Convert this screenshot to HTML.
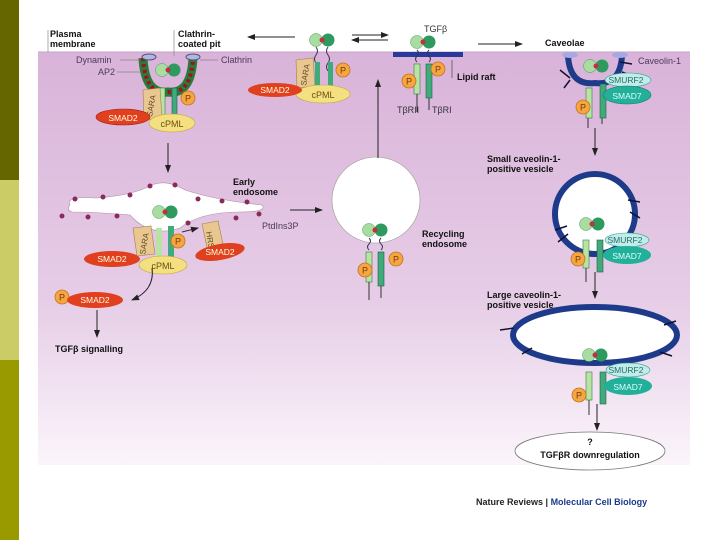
<!DOCTYPE html>
<html><head><meta charset="utf-8"><style>
html,body{margin:0;padding:0;background:#fff;width:720px;height:540px;overflow:hidden}
svg{display:block}
text{font-family:"Liberation Sans",sans-serif}
.b{font-weight:bold;font-size:9px;fill:#111}
.g{font-size:9px;fill:#4a3a5a}
</style></head><body>
<svg width="720" height="540" viewBox="0 0 720 540" xmlns="http://www.w3.org/2000/svg">
<defs>
<linearGradient id="pk" x1="0" y1="0" x2="0" y2="1">
<stop offset="0" stop-color="#d9b3d9"/><stop offset="0.6" stop-color="#e6cde6"/><stop offset="1" stop-color="#fbf5fb"/>
</linearGradient>
<marker id="ar" markerWidth="8" markerHeight="8" refX="7" refY="4" orient="auto" markerUnits="userSpaceOnUse"><path d="M0,1 L8,4 L0,7 z" fill="#222"/></marker>
<g id="lig"><circle cx="-6" cy="0" r="6.5" fill="#a8dca0" stroke="#4a9a5a" stroke-width=".5"/><circle cx="6" cy="0" r="6.5" fill="#2e9a5e"/><circle cx="0" cy="0" r="2.5" fill="#c03040"/></g>
<g id="rec"><path d="M-6,8 q3,3 0,6 q-3,3 0,6 M6,8 q-3,3 0,6 q3,3 0,6" stroke="#335" fill="none" stroke-width="1"/>
<rect x="-9" y="22" width="6" height="30" fill="#b9e3a3" stroke="#3a7a4a" stroke-width=".6"/><rect x="3" y="22" width="6" height="34" fill="#3faa7a" stroke="#2a5a4a" stroke-width=".6"/>
<line x1="-6" y1="52" x2="-6" y2="70" stroke="#333"/><line x1="6" y1="56" x2="6" y2="68" stroke="#333"/></g>
<g id="P"><circle r="7" fill="#f4a640" stroke="#c87020" stroke-width=".8"/><text x="0" y="3.5" text-anchor="middle" font-size="9" fill="#7a3a10">P</text></g>
</defs>

<!-- sidebar -->
<rect x="0" y="0" width="19" height="180" fill="#666600"/>
<rect x="0" y="180" width="19" height="180" fill="#cccc66"/>
<rect x="0" y="360" width="19" height="180" fill="#999900"/>

<!-- panel -->
<rect x="38" y="52" width="652" height="413" fill="url(#pk)"/>
<line x1="38" y1="52" x2="690" y2="52" stroke="#c9a0c9" stroke-width="1"/>
<line x1="48" y1="30" x2="48" y2="52" stroke="#888" stroke-width=".7"/>
<line x1="174" y1="30" x2="174" y2="56" stroke="#888" stroke-width=".7"/>

<!-- top labels -->
<text class="b" x="50" y="37">Plasma</text><text class="b" x="50" y="47">membrane</text>
<text class="b" x="178" y="37">Clathrin-</text><text class="b" x="178" y="47">coated pit</text>
<line x1="295" y1="37" x2="248" y2="37" stroke="#222" marker-end="url(#ar)"/>
<line x1="352" y1="35" x2="388" y2="35" stroke="#222" marker-end="url(#ar)"/>
<line x1="388" y1="40" x2="352" y2="40" stroke="#222" marker-end="url(#ar)"/>
<line x1="478" y1="44" x2="522" y2="44" stroke="#222" marker-end="url(#ar)"/>
<text x="424" y="32" font-size="9" fill="#333">TGFβ</text>
<text class="b" x="545" y="46">Caveolae</text>

<!-- clathrin pit -->
<path d="M143,58 Q145,95 168,92 Q191,95 193,58" fill="none" stroke="#2a7a3a" stroke-width="9"/>
<path d="M143,58 Q145,95 168,92 Q191,95 193,58" fill="none" stroke="#a01020" stroke-width="4" stroke-dasharray="3 3"/>
<ellipse cx="149" cy="57" rx="7" ry="3" fill="#b0b8e0" stroke="#557"/><ellipse cx="193" cy="57" rx="7" ry="3" fill="#b0b8e0" stroke="#557"/>
<text class="g" x="76" y="63">Dynamin</text><line x1="120" y1="60" x2="140" y2="60" stroke="#666" stroke-width=".6"/>
<text class="g" x="98" y="75">AP2</text><line x1="117" y1="72" x2="143" y2="72" stroke="#666" stroke-width=".6"/>
<text class="g" x="221" y="63">Clathrin</text><line x1="200" y1="60" x2="218" y2="60" stroke="#666" stroke-width=".6"/>
<use href="#lig" x="168" y="70"/>
<rect x="160" y="88" width="5" height="30" fill="#b9e3a3" stroke="#3a7a4a" stroke-width=".6"/><rect x="172" y="88" width="5" height="30" fill="#3faa7a" stroke="#2a5a4a" stroke-width=".6"/>
<path d="M143,90 l17,-2 l2,30 l-18,2 z" fill="#e8c890" stroke="#a08050" stroke-width=".6"/>
<text x="0" y="0" font-size="8" fill="#6a4a20" transform="translate(152,117) rotate(-80)">SARA</text>
<use href="#P" x="188" y="98"/>
<ellipse cx="172" cy="123" rx="23" ry="9" fill="#f4e080" stroke="#c0a040" stroke-width=".6"/><text x="172" y="127" text-anchor="middle" font-size="9" fill="#6a5010">cPML</text>
<ellipse cx="123" cy="117" rx="27" ry="8" fill="#e04020" stroke="#a02010" stroke-width=".6"/><text x="123" y="121" text-anchor="middle" font-size="8.5" fill="#ffd">SMAD2</text>

<!-- second complex -->
<use href="#lig" x="322" y="40"/>
<path d="M316,47 q3,4 0,8 q-3,4 0,8 q3,4 0,8 M328,47 q-3,4 0,8 q3,4 0,8 q-3,4 0,8" stroke="#335" fill="none"/>
<path d="M296,60 l17,-2 l2,28 l-18,2 z" fill="#e8c890" stroke="#a08050" stroke-width=".6"/>
<text x="0" y="0" font-size="8" fill="#6a4a20" transform="translate(306,86) rotate(-80)">SARA</text>
<rect x="315" y="62" width="5" height="26" fill="#3faa7a"/><rect x="328" y="62" width="5" height="26" fill="#3faa7a"/>
<use href="#P" x="343" y="70"/>
<ellipse cx="323" cy="94" rx="27" ry="9" fill="#f4e080" stroke="#c0a040" stroke-width=".6"/><text x="323" y="98" text-anchor="middle" font-size="9" fill="#6a5010">cPML</text>
<ellipse cx="275" cy="90" rx="27" ry="7" fill="#e04020"/><text x="275" y="93" text-anchor="middle" font-size="8.5" fill="#ffd">SMAD2</text>

<!-- lipid raft -->
<use href="#lig" x="423" y="42"/>
<rect x="393" y="52" width="70" height="5" fill="#2a3a9a"/>
<use href="#rec" x="423" y="42"/>
<use href="#P" x="438" y="69"/><use href="#P" x="409" y="81"/>
<line x1="452" y1="60" x2="452" y2="78" stroke="#333" stroke-width=".6"/>
<text class="b" x="457" y="80">Lipid raft</text>
<text x="397" y="113" font-size="9" fill="#333">TβRII</text><text x="432" y="113" font-size="9" fill="#333">TβRI</text>

<!-- caveolae -->
<path d="M568,56 Q570,86 595,83 Q620,86 622,56" fill="none" stroke="#1e3a8a" stroke-width="6"/>
<ellipse cx="570" cy="55" rx="8" ry="3" fill="#a8a8e0"/><ellipse cx="620" cy="55" rx="8" ry="3" fill="#a8a8e0"/>
<path d="M560,70 l10,8 M620,62 l12,2 M622,72 l10,4 M570,80 l-6,8" stroke="#113" stroke-width="1.5"/>
<use href="#lig" x="596" y="66"/>
<text class="g" x="638" y="64">Caveolin-1</text>
<rect x="586" y="88" width="6" height="30" fill="#b9e3a3" stroke="#3a7a4a" stroke-width=".6"/><rect x="600" y="84" width="6" height="34" fill="#3faa7a" stroke="#2a5a4a" stroke-width=".6"/>
<line x1="588" y1="118" x2="588" y2="128" stroke="#333"/><line x1="602" y1="118" x2="602" y2="124" stroke="#333"/>
<ellipse cx="628" cy="80" rx="23" ry="7" fill="#bfeee8" stroke="#3a9a9a" stroke-width=".6"/><text x="626" y="83" text-anchor="middle" font-size="8.5" fill="#2a6a6a">SMURF2</text>
<ellipse cx="627" cy="95" rx="24" ry="9" fill="#22b09a" stroke="#1a7a6a" stroke-width=".6"/><text x="627" y="99" text-anchor="middle" font-size="8.5" fill="#dff">SMAD7</text>
<use href="#P" x="583" y="107"/>
<line x1="595" y1="128" x2="595" y2="155" stroke="#222" marker-end="url(#ar)"/>
<text class="b" x="487" y="162">Small caveolin-1-</text><text class="b" x="487" y="172">positive vesicle</text>

<!-- small vesicle -->
<ellipse cx="595" cy="214" rx="40" ry="40" fill="#fff" stroke="#1e3a8a" stroke-width="6"/>
<path d="M555,230 l12,-4 M558,242 l10,-8 M628,200 l12,2 M630,212 l10,6" stroke="#113" stroke-width="1.5"/>
<use href="#lig" x="592" y="224"/>
<rect x="583" y="240" width="6" height="28" fill="#b9e3a3" stroke="#3a7a4a" stroke-width=".6"/><rect x="597" y="240" width="6" height="32" fill="#3faa7a" stroke="#2a5a4a" stroke-width=".6"/>
<line x1="586" y1="268" x2="586" y2="282" stroke="#333"/>
<ellipse cx="627" cy="240" rx="22" ry="7" fill="#bfeee8" stroke="#3a9a9a" stroke-width=".6"/><text x="625" y="243" text-anchor="middle" font-size="8.5" fill="#2a6a6a">SMURF2</text>
<ellipse cx="627" cy="255" rx="24" ry="9" fill="#22b09a"/><text x="627" y="259" text-anchor="middle" font-size="8.5" fill="#dff">SMAD7</text>
<use href="#P" x="578" y="259"/>
<line x1="595" y1="272" x2="595" y2="298" stroke="#222" marker-end="url(#ar)"/>
<text class="b" x="487" y="298">Large caveolin-1-</text><text class="b" x="487" y="308">positive vesicle</text>

<!-- large vesicle -->
<ellipse cx="595" cy="335" rx="82" ry="28" fill="#fff" stroke="#1e3a8a" stroke-width="6"/>
<path d="M500,330 l14,-2 M522,354 l10,-6 M664,325 l12,-4 M660,352 l12,4" stroke="#113" stroke-width="1.5"/>
<use href="#lig" x="595" y="355"/>
<rect x="586" y="372" width="6" height="28" fill="#b9e3a3" stroke="#3a7a4a" stroke-width=".6"/><rect x="600" y="372" width="6" height="32" fill="#3faa7a" stroke="#2a5a4a" stroke-width=".6"/>
<line x1="589" y1="400" x2="589" y2="415" stroke="#333"/>
<ellipse cx="628" cy="370" rx="22" ry="7" fill="#bfeee8" stroke="#3a9a9a" stroke-width=".6"/><text x="626" y="373" text-anchor="middle" font-size="8.5" fill="#2a6a6a">SMURF2</text>
<ellipse cx="628" cy="386" rx="24" ry="9" fill="#22b09a"/><text x="628" y="390" text-anchor="middle" font-size="8.5" fill="#dff">SMAD7</text>
<use href="#P" x="579" y="395"/>
<line x1="597" y1="404" x2="597" y2="430" stroke="#222" marker-end="url(#ar)"/>
<ellipse cx="590" cy="451" rx="75" ry="19" fill="#fff" stroke="#777" stroke-width=".8"/>
<text class="b" x="590" y="445" text-anchor="middle">?</text>
<text class="b" x="590" y="458" text-anchor="middle">TGFβR downregulation</text>

<!-- early endosome -->
<line x1="168" y1="143" x2="168" y2="172" stroke="#222" marker-end="url(#ar)"/>
<path d="M70,205 Q65,196 95,198 Q130,196 150,186 Q165,178 185,190 Q215,200 262,205 Q268,212 240,212 Q200,212 180,228 Q150,238 130,215 Q95,212 72,212 Q66,210 70,205 z" fill="#fff" stroke="#b090b0" stroke-width=".6"/>
<g fill="#8a2a5a">
<circle cx="75" cy="199" r="2.5"/><circle cx="103" cy="197" r="2.5"/><circle cx="130" cy="195" r="2.5"/><circle cx="150" cy="186" r="2.5"/><circle cx="175" cy="185" r="2.5"/><circle cx="198" cy="199" r="2.5"/><circle cx="222" cy="201" r="2.5"/><circle cx="247" cy="202" r="2.5"/><circle cx="259" cy="214" r="2.5"/><circle cx="236" cy="218" r="2.5"/><circle cx="188" cy="223" r="2.5"/><circle cx="145" cy="232" r="2.5"/><circle cx="117" cy="216" r="2.5"/><circle cx="88" cy="217" r="2.5"/><circle cx="62" cy="216" r="2.5"/></g>
<text class="b" x="233" y="185">Early</text><text class="b" x="233" y="195">endosome</text>
<text class="g" x="262" y="229">PtdIns3P</text>
<use href="#lig" x="165" y="212"/>
<path d="M133,228 l18,-2 l4,28 l-18,2 z" fill="#e8c890" stroke="#a08050" stroke-width=".6"/>
<text x="0" y="0" font-size="8" fill="#6a4a20" transform="translate(145,255) rotate(-80)">SARA</text>
<rect x="156" y="228" width="6" height="32" fill="#b9e3a3"/><rect x="168" y="226" width="6" height="34" fill="#3faa7a"/>
<use href="#P" x="178" y="241"/>
<path d="M202,224 l16,-3 l6,28 l-16,3 z" fill="#e8c890" stroke="#a08050" stroke-width=".6"/>
<text x="0" y="0" font-size="8" fill="#6a4a20" transform="translate(206,232) rotate(80)">HRS</text>
<line x1="182" y1="232" x2="198" y2="228" stroke="#334" marker-end="url(#ar)"/>
<ellipse cx="220" cy="252" rx="25" ry="8" fill="#e04020" transform="rotate(-10 220 252)"/><text x="220" y="255" text-anchor="middle" font-size="8.5" fill="#ffd">SMAD2</text>
<ellipse cx="163" cy="265" rx="24" ry="9" fill="#f4e080" stroke="#c0a040" stroke-width=".6"/><text x="163" y="269" text-anchor="middle" font-size="9" fill="#6a5010">cPML</text>
<ellipse cx="112" cy="259" rx="28" ry="8" fill="#e04020"/><text x="112" y="262" text-anchor="middle" font-size="8.5" fill="#ffd">SMAD2</text>
<path d="M152,268 Q155,290 132,300" fill="none" stroke="#223" marker-end="url(#ar)"/>
<use href="#P" x="62" y="297"/>
<ellipse cx="95" cy="300" rx="28" ry="8" fill="#e04020"/><text x="95" y="303" text-anchor="middle" font-size="8.5" fill="#ffd">SMAD2</text>
<line x1="97" y1="310" x2="97" y2="337" stroke="#222" marker-end="url(#ar)"/>
<text class="b" x="55" y="352">TGFβ signalling</text>

<!-- recycling -->
<line x1="290" y1="210" x2="322" y2="210" stroke="#222" marker-end="url(#ar)"/>
<ellipse cx="376" cy="200" rx="44" ry="43" fill="#fff" stroke="#999" stroke-width=".6"/>
<use href="#lig" x="375" y="230"/>
<use href="#rec" x="375" y="230"/>
<use href="#P" x="396" y="259"/><use href="#P" x="365" y="270"/>
<text class="b" x="422" y="237">Recycling</text><text class="b" x="422" y="247">endosome</text>
<line x1="378" y1="158" x2="378" y2="80" stroke="#222" marker-end="url(#ar)"/>

<!-- footer -->
<text x="476" y="505" font-size="9" font-weight="bold" fill="#222">Nature Reviews | <tspan fill="#1a3a8a">Molecular Cell Biology</tspan></text>
</svg>
</body></html>
